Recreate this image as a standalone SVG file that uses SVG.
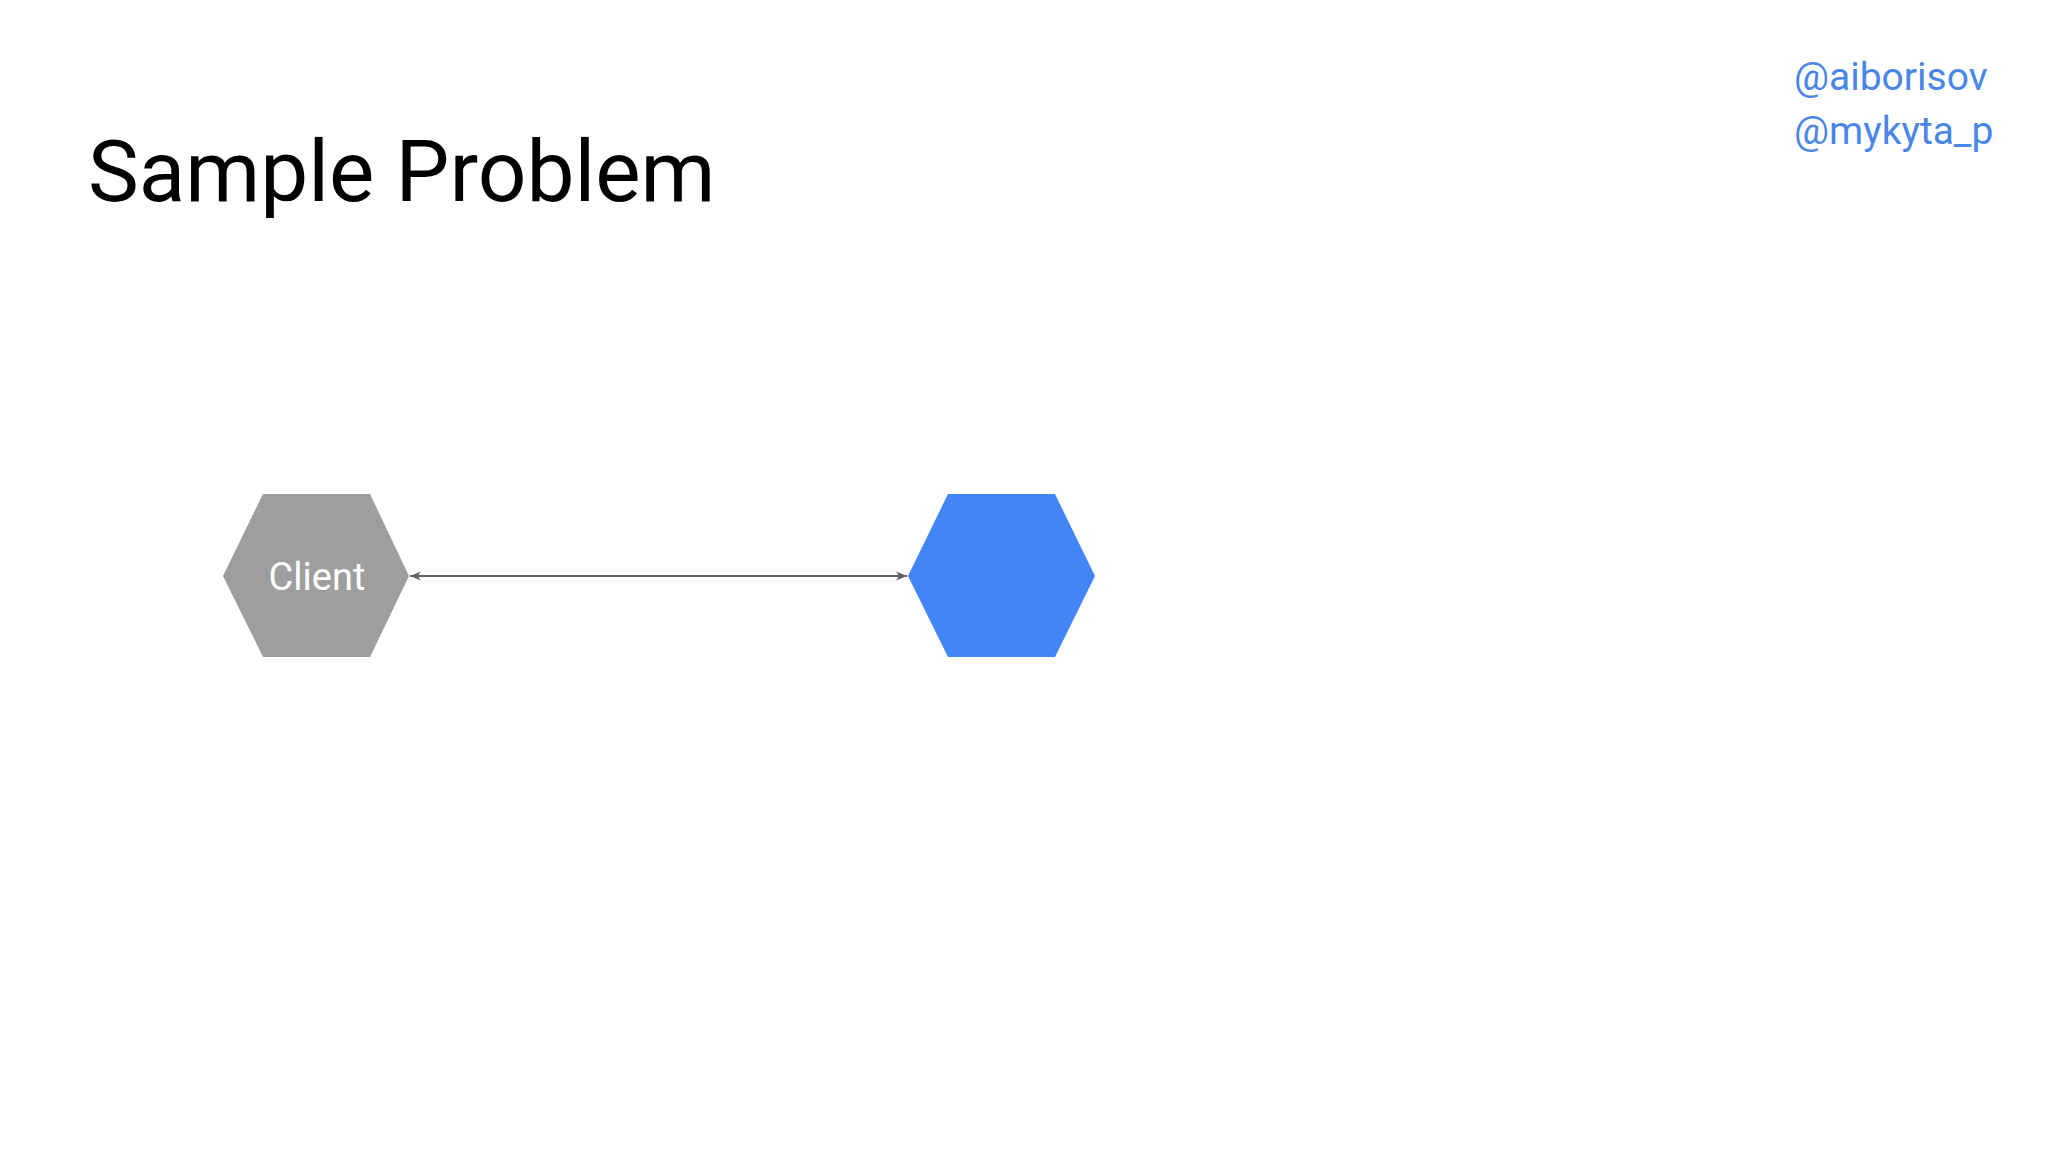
<svg xmlns="http://www.w3.org/2000/svg" width="2048" height="1152" viewBox="0 0 2048 1152">
<defs>
<style>
.title{font-family:Roboto,"Liberation Sans",sans-serif;font-size:85.5px;fill:#000}
.handle{font-family:Roboto,"Liberation Sans",sans-serif;font-size:39px;fill:#4a86e8}
.label{font-family:Roboto,"Liberation Sans",sans-serif;font-size:38px;fill:#fff;text-anchor:middle}
.conn{stroke:#616161;stroke-width:1.8;fill:none}
</style>
<marker id="arr" viewBox="0 0 10 10" refX="10" refY="5" markerWidth="11" markerHeight="11" markerUnits="userSpaceOnUse" orient="auto-start-reverse">
<path d="M0,1 L10,5 L0,9 L3,5 Z" fill="#616161"/>
</marker>
</defs>
<rect width="2048" height="1152" fill="#fff"/>
<text class="title" x="88" y="201">Sample Problem</text>
<text class="handle" x="1794" y="90">@aiborisov</text>
<text class="handle" x="1794" y="144">@mykyta_p</text>
<g id="connectors">
<line class="conn" x1="410" y1="576" x2="907" y2="576" marker-start="url(#arr)" marker-end="url(#arr)"/>
</g>
<g id="client">
<polygon points="223,576 263,494 370,494 409,576 370,657 263,657" fill="#9e9e9e"/>
<text class="label" x="317" y="590">Client</text>
</g>
<g id="service">
<polygon points="908,576 948,494 1055,494 1095,576 1055,657 948,657" fill="#4285f4"/>
</g>
</svg>
